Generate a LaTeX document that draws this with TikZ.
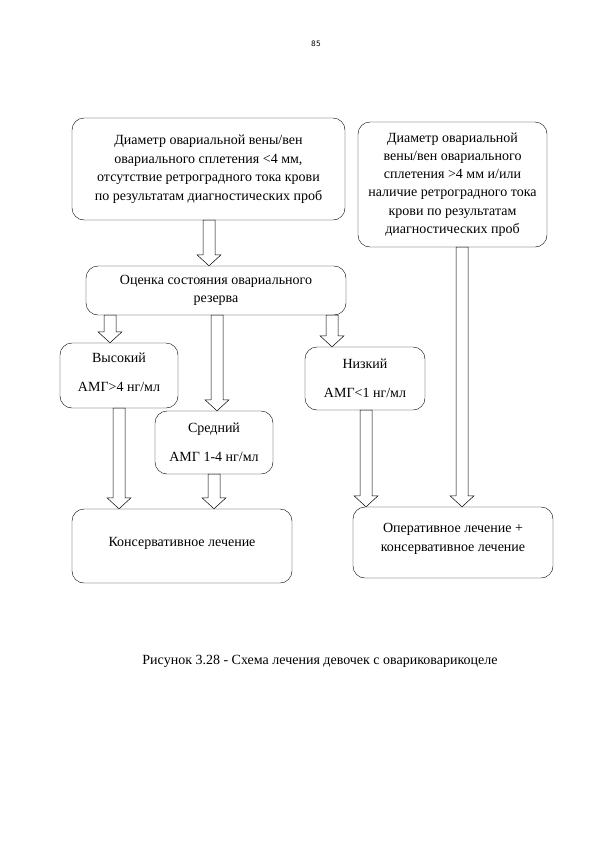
\documentclass[tikz,border=0pt]{standalone}
\usepackage{fontspec}
\setmainfont{Liberation Serif}
\newfontfamily\pgnum{DejaVu Sans}
\usetikzlibrary{calc}
\tikzset{
  box/.style={draw, rounded corners=12pt, align=center, inner sep=2pt, font=\fontsize{14}{18.5}\selectfont},
  barrowstyle/.style={draw, fill=white, line width=0.5pt},
}
\newcommand\barrow[3]{%
  \draw[barrowstyle] let \p1=(#2.south), \p2=(#3.north) in
    (#1pt-6pt,\y1) -- (#1pt-6pt,\y2+11pt) -- (#1pt-12pt,\y2+11pt) -- (#1pt,\y2)
    -- (#1pt+12pt,\y2+11pt) -- (#1pt+6pt,\y2+11pt) -- (#1pt+6pt,\y1) -- cycle;}
\begin{document}
\begin{tikzpicture}[x=1pt,y=1pt]
\useasboundingbox (0,0) rectangle (594,-841);
\node[font=\pgnum\fontsize{7.5}{9}\selectfont] (pg) at (316,-44) {85};
\node[box, minimum width=273pt, minimum height=102pt] (b1) at (208.5,-169)
 {Диаметр овариальной вены/вен\\овариального сплетения <4 мм,\\отсутствие ретроградного тока крови\\по результатам диагностических проб};
\node[box, minimum width=189pt, minimum height=125pt, font=\fontsize{14}{18.2}\selectfont] (b2) at (452.5,-184.5)
 {Диаметр овариальной\\вены/вен овариального\\сплетения >4 мм и/или\\наличие ретроградного тока\\крови по результатам\\диагностических проб};
\node[box, minimum width=260pt, minimum height=49pt, font=\fontsize{14}{18}\selectfont] (b3) at (216,-290.5)
 {Оценка состояния овариального\\резерва};
\node[box, minimum width=118pt, minimum height=65pt] (hi) at (119,-375.5)
 {Высокий\\[10.5pt]АМГ>4 нг/мл\\[-12.5pt]\mbox{}};
\node[box, minimum width=118pt, minimum height=63pt] (mid) at (214,-442.5)
 {Средний\\[10.5pt]АМГ 1-4 нг/мл};
\node[box, minimum width=120pt, minimum height=63pt] (lo) at (365,-378.5)
 {Низкий\\[10.5pt]АМГ<1 нг/мл};
\node[box, minimum width=220pt, minimum height=74pt] (cons) at (182,-546)
 {Консервативное лечение\\[-10pt]\mbox{}};
\node[box, minimum width=200pt, minimum height=71pt, font=\fontsize{14}{18.5}\selectfont] (oper) at (453,-542.5)
 {Оперативное лечение +\\консервативное лечение\\[-8pt]\mbox{}};
\node[font=\fontsize{14}{16}\selectfont] (cap) at (320,-661)
 {Рисунок 3.28 - Схема лечения девочек с овариковарикоцеле};
\barrow{209}{b1}{b3}
\barrow{110}{b3}{hi}
\barrow{217}{b3}{mid}
\barrow{332}{b3}{lo}
\barrow{119}{hi}{cons}
\barrow{214}{mid}{cons}
\barrow{366}{lo}{oper}
\barrow{462}{b2}{oper}
\end{tikzpicture}
\end{document}
